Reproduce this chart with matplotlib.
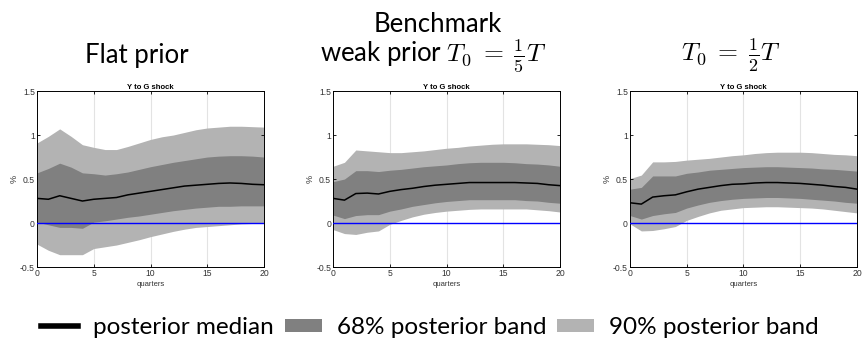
import numpy as np
import matplotlib.pyplot as plt
from matplotlib.patches import Patch
from matplotlib.lines import Line2D

plt.rcParams['mathtext.fontset'] = 'cm'

quarters = np.arange(21)

# flat prior
flat_med = [0.28, 0.27, 0.31, 0.28, 0.25, 0.27, 0.28, 0.29, 0.32, 0.34, 0.36,
            0.38, 0.40, 0.42, 0.43, 0.44, 0.45, 0.455, 0.45, 0.44, 0.435]
flat_hi90 = [0.91, 0.985, 1.07, 0.985, 0.89, 0.86, 0.835, 0.835, 0.87, 0.91, 0.95,
             0.98, 1.0, 1.03, 1.06, 1.08, 1.09, 1.10, 1.10, 1.095, 1.09]
flat_hi68 = [0.57, 0.62, 0.68, 0.635, 0.57, 0.56, 0.545, 0.56, 0.58, 0.61, 0.64,
             0.665, 0.69, 0.71, 0.73, 0.75, 0.76, 0.765, 0.765, 0.76, 0.75]
flat_lo68 = [0.01, -0.02, -0.05, -0.05, -0.06, 0.01, 0.025, 0.045, 0.065, 0.08, 0.10,
             0.12, 0.14, 0.155, 0.17, 0.18, 0.19, 0.19, 0.195, 0.195, 0.195]
flat_lo90 = [-0.24, -0.31, -0.36, -0.36, -0.36, -0.29, -0.27, -0.25, -0.22, -0.19, -0.155,
             -0.125, -0.095, -0.07, -0.05, -0.04, -0.03, -0.02, -0.01, -0.005, 0.0]

# benchmark weak prior T0 = T/5
weak_med = [0.28, 0.26, 0.335, 0.34, 0.33, 0.36, 0.38, 0.395, 0.415, 0.43, 0.44,
            0.45, 0.46, 0.46, 0.46, 0.46, 0.46, 0.455, 0.45, 0.435, 0.425]
weak_hi90 = [0.645, 0.69, 0.83, 0.82, 0.81, 0.80, 0.80, 0.81, 0.82, 0.835, 0.85,
             0.86, 0.875, 0.885, 0.895, 0.90, 0.90, 0.90, 0.895, 0.89, 0.88]
weak_hi68 = [0.47, 0.50, 0.595, 0.595, 0.585, 0.60, 0.61, 0.625, 0.64, 0.65, 0.66,
             0.675, 0.685, 0.69, 0.69, 0.69, 0.685, 0.675, 0.67, 0.66, 0.645]
weak_lo68 = [0.09, 0.05, 0.085, 0.095, 0.095, 0.135, 0.16, 0.19, 0.21, 0.23, 0.245,
             0.255, 0.265, 0.265, 0.265, 0.265, 0.265, 0.255, 0.25, 0.235, 0.225]
weak_lo90 = [-0.075, -0.12, -0.13, -0.105, -0.09, -0.015, 0.03, 0.07, 0.10, 0.12, 0.135,
             0.145, 0.155, 0.16, 0.16, 0.16, 0.16, 0.16, 0.15, 0.14, 0.125]

# T0 = T/2
half_med = [0.23, 0.215, 0.295, 0.31, 0.32, 0.355, 0.385, 0.405, 0.425, 0.44, 0.445,
            0.455, 0.46, 0.46, 0.455, 0.45, 0.44, 0.43, 0.415, 0.405, 0.385]
half_hi90 = [0.505, 0.545, 0.695, 0.695, 0.70, 0.715, 0.725, 0.735, 0.75, 0.765, 0.775,
             0.79, 0.80, 0.805, 0.805, 0.805, 0.80, 0.79, 0.78, 0.775, 0.765]
half_hi68 = [0.385, 0.405, 0.535, 0.535, 0.535, 0.565, 0.58, 0.60, 0.61, 0.62, 0.63,
             0.635, 0.64, 0.64, 0.635, 0.63, 0.625, 0.615, 0.61, 0.60, 0.59]
half_lo68 = [0.085, 0.045, 0.085, 0.105, 0.12, 0.17, 0.205, 0.235, 0.255, 0.27, 0.28,
             0.285, 0.29, 0.29, 0.285, 0.28, 0.27, 0.26, 0.25, 0.235, 0.225]
half_lo90 = [-0.01, -0.09, -0.085, -0.065, -0.04, 0.03, 0.075, 0.115, 0.145, 0.16, 0.175,
             0.18, 0.185, 0.185, 0.18, 0.175, 0.17, 0.16, 0.145, 0.13, 0.115]

panels = [
    (flat_med, flat_lo68, flat_hi68, flat_lo90, flat_hi90),
    (weak_med, weak_lo68, weak_hi68, weak_lo90, weak_hi90),
    (half_med, half_lo68, half_hi68, half_lo90, half_hi90),
]

light = '#b3b3b3'
dark = '#808080'

fig = plt.figure(figsize=(8.63, 3.41), dpi=100)
lefts = [0.0429, 0.386, 0.730]

for left, (med, lo68, hi68, lo90, hi90) in zip(lefts, panels):
    ax = fig.add_axes([left, 0.217, 0.263, 0.516])
    for xv in [5, 10, 15]:
        ax.axvline(xv, color='#e3e3e3', lw=0.8, zorder=0)
    ax.fill_between(quarters, lo90, hi90, color=light, lw=0, zorder=1)
    ax.fill_between(quarters, lo68, hi68, color=dark, lw=0, zorder=2)
    ax.plot(quarters, med, color='black', lw=1.1, zorder=3)
    ax.axhline(0, color='blue', lw=1.0, zorder=4)
    ax.set_xlim(0, 20)
    ax.set_ylim(-0.5, 1.5)
    ax.set_xticks([0, 5, 10, 15, 20])
    ax.set_yticks([-0.5, 0, 0.5, 1, 1.5])
    ax.set_yticklabels(['-0.5', '0', '0.5', '1', '1.5'])
    ax.tick_params(direction='in', top=True, right=True, length=2.5, width=0.6,
                   labelsize=6.2, pad=1.5, labelcolor='#333333')
    for sp in ax.spines.values():
        sp.set_linewidth(0.7)
    ax.set_title('Y to G shock', fontsize=5.5, fontweight='bold', pad=1.5,
                 family='Liberation Sans')
    ax.set_xlabel('quarters', fontsize=5.5, labelpad=2, color='#333333',
                  family='Liberation Sans')
    ax.set_ylabel('%', fontsize=6.5, labelpad=1, color='#333333',
                  family='Liberation Sans')
    for lab in ax.get_xticklabels() + ax.get_yticklabels():
        lab.set_family('Liberation Sans')

fs = 18.5
fig.text(0.507, 0.906, 'Benchmark', ha='center', va='baseline', fontsize=fs, family='Lato')
fig.text(0.158, 0.815, 'Flat prior', ha='center', va='baseline', fontsize=fs, family='Lato')
fig.text(0.502, 0.818, r'weak prior $T_0\;=\;\frac{1}{5}T$', ha='center', va='baseline',
         fontsize=fs, family='Lato')
fig.text(0.847, 0.818, r'$T_0\;=\;\frac{1}{2}T$', ha='center', va='baseline', fontsize=fs)

handles = [Line2D([0], [0], color='black', lw=4),
           Patch(facecolor=dark, edgecolor='none'),
           Patch(facecolor=light, edgecolor='none')]
labels = ['posterior median', '68% posterior band', '90% posterior band']
fig.legend(handles, labels, loc='center', bbox_to_anchor=(0.498, 0.04), ncol=3,
           frameon=False, prop={'family': 'Lato', 'size': 17.5}, handlelength=1.52,
           handleheight=0.45, handletextpad=0.62, columnspacing=0.45)

fig.savefig('out.png', dpi=100)
